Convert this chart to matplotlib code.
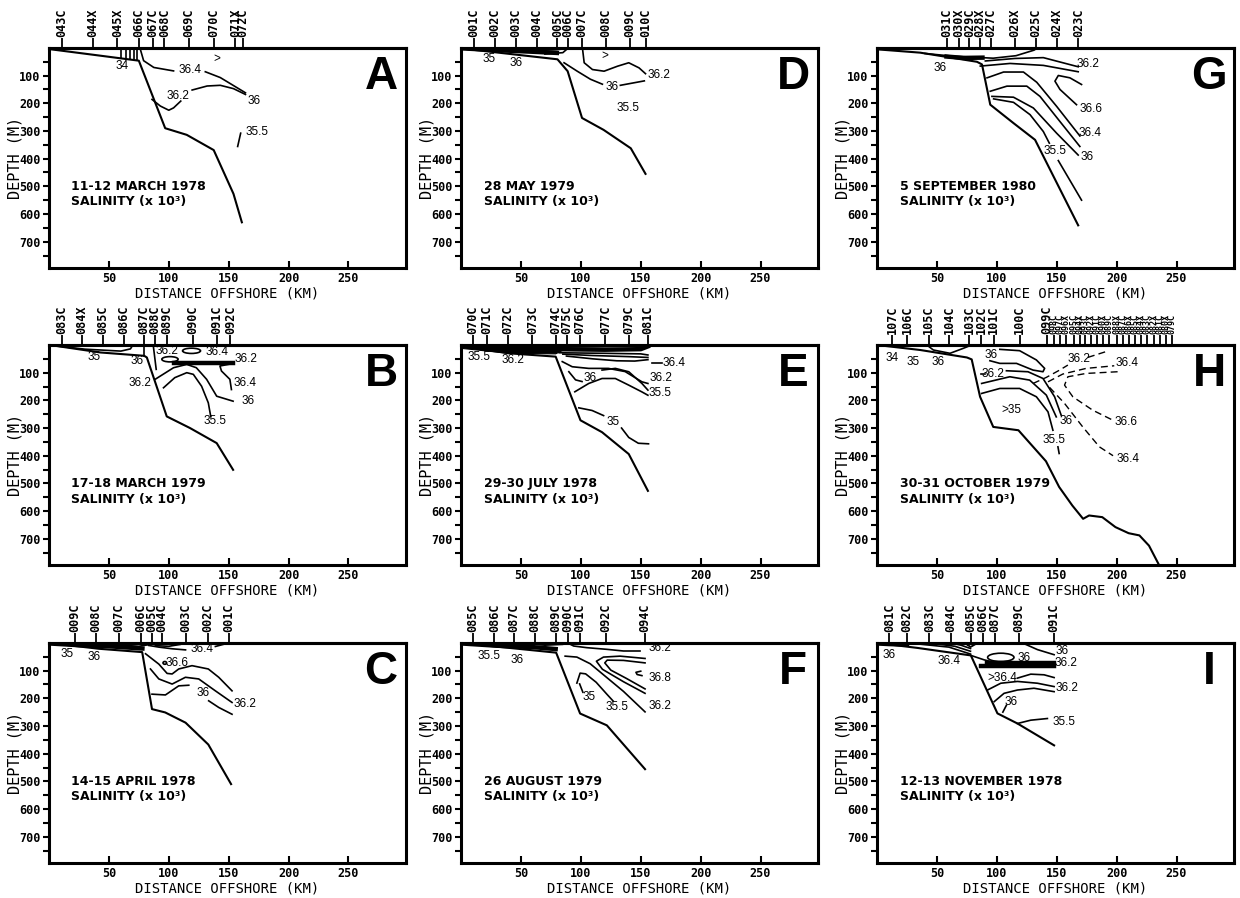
import matplotlib
matplotlib.use('Agg')
import matplotlib.pyplot as plt
from matplotlib.patches import Ellipse, Polygon

MONO = 'DejaVu Sans Mono'
SANS = 'Liberation Sans'

# ---- panel A : 11-12 March 1978 ----
a_date = '11-12 MARCH 1978'
a_stn = ['043C', '044X', '045X', '066C', '067C', '068C', '069C', '070C', '071X', '072C']
a_stn_km = [10.6, 36.7, 57, 75, 87, 96.4, 117, 137.5, 155.5, 162]
a_bottom = [(0, 4), (43, 28), (75, 46), (97, 290), (115, 314), (137.5, 369), (154, 527), (161, 630)]
a_lines = [
    [(76, 1), (79, 46), (87.5, 70.5), (104, 83)],
    [(130.5, 86), (143, 107), (164, 162)],
    [(86, 186), (93, 210), (100, 225), (104, 216.5), (110, 192)],
    [(119.5, 152), (132, 137.5), (143, 135), (154, 147), (164, 168)],
    [(157.5, 356), (160, 308)],
    [(60.3, 0), (60.3, 36)], [(64, 0), (64, 38)], [(67.5, 0), (67.5, 40)],
    [(71, 0), (71, 42)], [(73.6, 0), (73.6, 44)],
]
a_labels = [(61, 64, '34'), (118, 79, '36.4'), (108, 174, '36.2'), (171, 192, '36'),
            (173.6, 302, '35.5'), (140, 40, '>')]

# ---- panel D : 28 May 1979 ----
d_date = '28 MAY 1979'
d_stn = ['001C', '002C', '003C', '004C', '005C', '006C', '007C', '008C', '009C', '010C']
d_stn_km = [11, 28, 46, 63, 80.5, 89, 101, 121, 141, 154]
d_bottom = [(1.4, 2.4), (80.5, 41), (89, 84), (101, 253), (119, 296), (141.7, 362.5), (154, 455)]
d_thick = [[(3, 2), (30, 8), (61, 14), (80, 18)]]
d_lines = [
    [(61, 10), (80, 6), (89, 2), (85, 17), (70, 22)],
    [(101.4, 2.4), (102.8, 53.5), (109.7, 78), (119.4, 84), (130.6, 66), (140, 53.5),
     (148.6, 72), (154, 93)],
    [(86, 53.5), (97, 84), (108, 113), (118, 131)],
    [(133, 135), (153, 119)],
]
d_labels = [(23.6, 39, '35'), (46, 53, '36'), (165, 96, '36.2'), (126.4, 140, '36'),
            (139, 217.6, '35.5'), (120, 29, '>')]

# ---- panel G : 5 September 1980 ----
g_date = '5 SEPTEMBER 1980'
g_stn = ['031C', '030X', '029C', '028X', '027C', '026X', '025C', '024X', '023C']
g_stn_km = [58.4, 68.1, 77, 86, 95, 115, 132.7, 150.4, 168]
g_bottom = [(0, 5), (36, 17), (83.4, 50), (87.6, 59.5), (94.5, 205), (113.9, 271.6),
            (131.9, 332), (167.9, 641)]
g_thick = [[(58, 31), (72, 36), (88, 35)]]
g_lines = [
    [(40, 20), (64, 30), (97, 37), (116, 28), (131, 8), (134, 0)],
    [(90.4, 47), (115, 38), (138.8, 35), (167.9, 68)],
    [(86.2, 65.5), (111, 56), (138.8, 63), (167.9, 86)],
    [(91.8, 108), (105.6, 87), (122.2, 87), (133.3, 124), (149.9, 211), (169.3, 318)],
    [(94.5, 156.5), (108.4, 138), (125, 138), (136, 175), (152.7, 266), (169.3, 356)],
    [(95.9, 175), (113.9, 178), (130.5, 217), (149.9, 308), (167.9, 387)],
    [(97.3, 184), (113.9, 196.5), (127.7, 241), (138.8, 302), (143.8, 344)],
    [(151.3, 407), (170.7, 550)],
    [(170.7, 132), (161, 108), (151.3, 99.5), (148.5, 120), (152.7, 150), (166.5, 205)],
]
g_labels = [(53, 71.5, '36'), (176, 59.6, '36.2'), (179, 220.6, '36.6'), (178, 308, '36.4'),
            (175, 395, '36'), (148.5, 374, '35.5')]

# ---- panel B : 17-18 March 1979 ----
b_date = '17-18 MARCH 1979'
b_stn = ['083C', '084X', '085C', '086C', '087C', '088C', '089C', '090C', '091C', '092C']
b_stn_km = [10.5, 27.7, 45, 62.3, 79.5, 88.6, 98.3, 120, 140, 151.5]
b_bottom = [(0.8, 0), (43, 27), (79.5, 39), (81.7, 45), (98.3, 258), (117.7, 300),
            (140, 354.5), (153.7, 451)]
b_thick = [[(104, 66), (154, 66)]]
b_lines = [
    [(1, 1), (30, 15), (60, 22), (68, 14), (70, 0)],
    [(79.5, 0), (79.5, 40)],
    [(87, 0), (89.5, 88)],
    [(151, 69), (142.7, 75.8), (144, 94), (151, 124), (152.3, 161)],
    [(88.6, 124), (104, 82), (115, 70), (123, 82), (131.6, 124), (140, 185), (153.7, 203)],
    [(95.6, 154.5), (105, 118), (115, 100), (120.5, 106), (127.4, 149), (133, 209), (135, 257.6)],
]
b_ellipses = [(101, 51.5, 13.6, 19), (119, 21, 15, 19)]
b_labels = [(37.4, 45, '35'), (73.4, 57.6, '36'), (76, 136, '36.2'), (98.3, 21, '36.2'),
            (140, 27, '36.4'), (164.8, 51.5, '36.2'), (164, 136, '36.4'), (166, 203, '36'),
            (138.5, 276, '35.5')]

# ---- panel E : 29-30 July 1978 ----
e_date = '29-30 JULY 1978'
e_stn = ['070C', '071C', '072C', '073C', '074C', '075C', '076C', '077C', '079C', '081C']
e_stn_km = [9.7, 21.6, 38.8, 59.6, 79, 88.6, 99, 120.5, 140, 156]
e_bottom = [(0, 5), (40, 30), (79, 42), (99.7, 272), (117.7, 315), (140, 394), (156, 527)]
e_fill = [[(0, 0), (156, 0), (156, 5), (90, 8), (79, 32), (40, 30), (0, 12)]]
e_thick = [[(79, 15), (120, 17), (150, 15), (156, 5)]]
e_lines = [
    [(82, 28), (120, 30), (150, 32), (156, 36)],
    [(85, 33), (110, 38), (140, 42), (156, 45)],
    [(88, 40), (110, 50), (130, 57), (145, 58), (156, 53)],
    [(159, 66), (167.6, 66)],
    [(84.5, 60), (92.8, 78.5), (106.6, 84.5), (123, 84.5), (137, 96), (151, 133), (156, 139)],
    [(90, 96.5), (95.6, 126), (101, 132)],
    [(117.7, 90.6), (128.8, 84.5), (140, 96.6), (151, 139), (156, 163)],
    [(95, 169), (106.6, 139), (117.7, 121), (128.8, 121), (140, 145), (151, 169.5), (156, 181.5)],
    [(98.3, 227), (109.4, 236.6), (119, 255)],
    [(134, 300), (140, 334), (148, 355), (156.5, 357)],
]
e_labels = [(15.2, 42, '35.5'), (43, 54, '36.2'), (108, 120.7, '36'), (178, 66, '36.4'),
            (166.8, 121, '36.2'), (166, 175, '35.5'), (126.9, 278.5, '35')]

# ---- panel H : 30-31 October 1979 ----
h_date = '30-31 OCTOBER 1979'
h_stn = ['107C', '106C', '105C', '104C', '103C', '102C', '101C', '100C', '099C',
         '098C', '097C', '096X', '095C', '094X', '093C', '092X', '091C', '090X', '089C',
         '088X', '087C', '086X', '085C', '084X', '083C', '082X', '081C', '080X', '079C']
h_stn_km = [12.5, 25, 43, 60, 77, 87, 97.5, 119, 142,
            148, 153, 158, 164, 169, 174, 179, 184, 189, 194,
            200, 205, 210, 215, 220, 225, 231, 236, 241, 246]
h_bottom = [(0, 0), (36, 18), (75, 45), (79, 52), (86, 187), (97, 296), (118, 308),
            (141, 420), (152, 513), (163, 580), (172, 628), (177, 616), (188, 622),
            (199, 658), (210, 680), (219, 688), (227, 725), (236, 800)]
h_lines = [
    [(41.6, 0), (47, 18), (60.9, 30), (72, 12), (78.9, 0)],
    [(102.5, 15.7), (119, 20.5), (133, 54), (139.9, 84.5), (138.5, 96.6), (130.2, 90.6),
     (116.4, 66.4), (102.5, 66.4), (94.2, 56.8)],
    [(87, 104), (90, 104)],
    [(108, 93), (126, 96.6), (138.5, 120.8), (148.2, 187), (153.7, 253.6)],
    [(87.3, 138.9), (110.8, 114.7), (127.4, 126.8), (141.3, 181), (149.6, 259.7)],
    [(87.3, 175), (102.5, 157), (119, 157), (133, 187), (142.7, 241.5), (146.8, 308)],
    [(151, 368), (152, 392)],
]
h_dashed = [
    [(130.2, 139), (141.3, 117), (152.4, 90.6), (159.3, 72.5)],
    [(176, 44.7), (191, 24)],
    [(142.7, 133), (155, 105), (174.5, 84.5), (198, 75)],
    [(200.8, 96.6), (174.5, 102.7), (159.3, 114.7), (156.5, 145), (163.4, 187), (180, 235.5),
     (197, 272)],
    [(144, 153), (156.5, 211), (171.7, 296), (185.6, 368), (197, 400)],
]
h_labels = [(12.5, 48, '34'), (30.5, 60, '35'), (51.2, 60, '36'), (95.6, 36, '36'),
            (97, 106, '36.2'), (112.2, 235.5, '>35'), (157.9, 273.5, '36'),
            (147.4, 344, '35.5'), (168.7, 50, '36.2'), (209, 66.4, '36.4'),
            (208, 278, '36.6'), (209.5, 413, '36.4')]

# ---- panel C : 14-15 April 1978 ----
c_date = '14-15 APRIL 1978'
c_stn = ['009C', '008C', '007C', '006C', '005C', '004C', '003C', '002C', '001C']
c_stn_km = [21.7, 39.4, 58.3, 77, 85.6, 94.4, 114, 132.8, 150]
c_bottom = [(0, 0), (41.7, 21), (77.8, 33), (86, 239), (97, 251), (114, 288), (133, 367), (152, 510)]
c_thick = [[(1, 2), (25, 8), (50, 12), (78, 20)]]
c_lines = [
    [(50, 2), (60, 8), (75, 12), (85, 5)],
    [(85, 0), (90, 10), (100, 12), (110, 5), (112, 0)],
    [(83.3, 9), (91.7, 15), (102.8, 21), (114, 25)],
    [(138.9, 12.7), (150, 0)],
    [(80.6, 39), (91.7, 76.4), (98.6, 110), (102.8, 112), (108.3, 94), (119.4, 82), (133, 94),
     (141.7, 124), (152.8, 173)],
    [(84.7, 94), (91.7, 130), (102.8, 148.5), (113.9, 124), (125, 130), (138.9, 173), (152.8, 215)],
    [(86, 185), (97.2, 187.8), (108.3, 155), (116.7, 152.7)],
    [(133.3, 209), (141.7, 233), (152.8, 257.6)],
]
c_ellipses = [(96.7, 72, 3, 10)]
c_labels = [(15.3, 39.4, '35'), (37.5, 49, '36'), (127.8, 21, '36.4'), (107, 73, '36.6'),
            (163.9, 218.8, '36.2'), (129, 182, '36')]

# ---- panel F : 26 August 1979 ----
f_date = '26 AUGUST 1979'
f_stn = ['085C', '086C', '087C', '088C', '089C', '090C', '091C', '092C', '094C']
f_stn_km = [9.7, 27.8, 44.4, 61.4, 79.4, 89, 98.9, 121, 153.6]
f_bottom = [(0, 0), (38.3, 17), (79.4, 35), (99.4, 255), (121.7, 297.6), (153.6, 456)]
f_thick = [[(1, 2), (30, 10), (60, 15), (79, 22)]]
f_lines = [
    [(55, 3), (70, 8), (85, 5), (89, 0)],
    [(89, 0), (94, 11), (105, 17), (121.7, 23), (135.6, 29), (149.4, 29)],
    [(86.9, 47.6), (96.7, 51), (107.8, 75), (121.7, 125), (135.6, 175), (153.6, 249)],
    [(153.6, 56), (132.8, 47.6), (118.9, 51), (113, 66), (118, 95), (135.6, 140), (153.6, 182)],
    [(153.6, 72), (135.6, 63), (122, 62), (120, 72), (125, 98), (138, 128), (153.6, 166)],
    [(150, 102), (146, 106), (147, 114), (151, 118)],
    [(96.7, 145), (99.4, 109), (104, 111.6), (112.8, 142), (121.7, 185), (127, 210)],
    [(99, 148), (101.7, 178)],
]
f_labels = [(23, 47.6, '35.5'), (46.7, 59.8, '36'), (166, 17, '36.2'), (166, 127, '36.8'),
            (166, 227, '36.2'), (130, 230.5, '35.5'), (107, 196, '35')]

# ---- panel I : 12-13 November 1978 ----
i_date = '12-13 NOVEMBER 1978'
i_stn = ['081C', '082C', '083C', '084C', '085C', '086C', '087C', '089C', '091C']
i_stn_km = [10.3, 25, 43.6, 61.7, 78.3, 88.6, 98.3, 118.6, 147.8]
i_bottom = [(0, 0), (33.9, 18), (78.3, 45), (100.5, 254.5), (117.2, 291), (147.8, 370)]
i_thick = [[(1, 2), (10, 4), (25, 6)], [(86.7, 85), (147.8, 85)], [(92, 73), (147.8, 73)]]
i_lines = [
    [(33, 3), (60, 15), (78, 40)],
    [(43.6, 0), (65, 12), (78, 30)],
    [(61.7, 0), (70, 8), (78, 20)],
    [(75, 5), (78, 15), (82, 5), (75, 5)],
    [(121.4, 0), (133.9, 24), (147.8, 42.4)],
    [(78.3, 45), (89.4, 61), (100.5, 73)],
    [(117.2, 127), (128.3, 112.7), (139.4, 115), (147.8, 125)],
    [(92.2, 170), (103.3, 145.5), (117.2, 139), (133.9, 145.5), (147.8, 157.6)],
    [(97.8, 212), (106, 182), (117.2, 170), (131, 163.6), (147.8, 176)],
    [(105, 250), (108, 225)],
    [(117.2, 291), (128.3, 279), (142.2, 273)],
]
i_ellipses = [(103.3, 52, 22, 30)]
i_labels = [(10.3, 42.4, '36'), (60.3, 66.7, '36.4'), (154.7, 30, '36'), (122.8, 54.5, '36'),
            (157.5, 72.7, '36.2'), (104.7, 127, '>36.4'), (158.9, 161, '36.2'),
            (111.7, 212, '36'), (156, 285, '35.5')]


def draw_panel(ax, letter, date, stn, stn_km, bottom, lines, labels,
               thick=(), dashed=(), ellipses=(), fills=(), dense_from=None):
    ax.set_xlim(0, 298)
    ax.set_ylim(795, 0)
    for poly in fills:
        ax.add_patch(Polygon(poly, closed=True, fc='black', ec='black', lw=0.8))
    x, y = zip(*bottom)
    ax.plot(x, y, color='black', lw=1.5)
    for ln in lines:
        x, y = zip(*ln)
        ax.plot(x, y, color='black', lw=1.2)
    for ln in thick:
        x, y = zip(*ln)
        ax.plot(x, y, color='black', lw=3.2)
    for ln in dashed:
        x, y = zip(*ln)
        ax.plot(x, y, color='black', lw=1.0, ls=(0, (5, 3)))
    for cx, cy, w, h in ellipses:
        ax.add_patch(Ellipse((cx, cy), w, h, fill=False, ec='black', lw=1.2))
    for lx, ly, s in labels:
        ax.text(lx, ly, s, ha='center', va='center', fontsize=8.5, family=SANS)

    ax.text(0.063, 0.37, date, transform=ax.transAxes, fontsize=9, family='DejaVu Sans',
            weight='bold', va='center')
    ax.text(0.063, 0.30, 'SALINITY (x 10³)', transform=ax.transAxes, fontsize=9,
            family='DejaVu Sans', weight='bold', va='center')
    ax.text(0.93, 0.87, letter, transform=ax.transAxes, fontsize=33, family=SANS,
            weight='bold', ha='center', va='center')

    for sp in ax.spines.values():
        sp.set_linewidth(2.2)
    ax.set_xticks([50, 100, 150, 200, 250])
    ax.set_yticks([100, 200, 300, 400, 500, 600, 700])
    ax.set_yticks([50, 150, 250, 350, 450, 550, 650, 750], minor=True)
    ax.tick_params(axis='x', direction='in', length=5, width=1.5, labelsize=8.5, pad=3)
    ax.tick_params(axis='y', which='both', direction='out', length=4, width=1.5,
                   labelsize=8.5, pad=2)
    for t in ax.get_xticklabels() + ax.get_yticklabels():
        t.set_fontfamily(MONO)
        t.set_fontweight('bold')
    ax.set_xlabel('DISTANCE OFFSHORE (KM)', family=MONO, fontsize=10)
    ax.set_ylabel('DEPTH (M)', family=MONO, fontsize=11)
    ax.xaxis.set_label_coords(0.5, -0.085)
    ax.yaxis.set_label_coords(-0.075, 0.5)

    top = ax.secondary_xaxis('top')
    top.set_xticks(stn_km, labels=stn)
    top.tick_params(direction='out', length=7, width=1.3, labelsize=8.5, pad=1,
                    labelrotation=90)
    top.spines['top'].set_linewidth(2.2)
    for k, t in enumerate(top.get_xticklabels()):
        t.set_fontfamily(MONO)
        t.set_fontweight('bold')
        if dense_from is not None and k >= dense_from:
            t.set_fontsize(6)


fig = plt.figure(figsize=(12.4, 8.98), dpi=100)
lefts = [0.0395, 0.3718, 0.7073]
bottoms = [0.7016, 0.3708, 0.039]
w, h = 0.2879, 0.245

panels = [
    (0, 0, dict(letter='A', date=a_date, stn=a_stn, stn_km=a_stn_km, bottom=a_bottom,
                lines=a_lines, labels=a_labels)),
    (0, 1, dict(letter='D', date=d_date, stn=d_stn, stn_km=d_stn_km, bottom=d_bottom,
                lines=d_lines, labels=d_labels, thick=d_thick)),
    (0, 2, dict(letter='G', date=g_date, stn=g_stn, stn_km=g_stn_km, bottom=g_bottom,
                lines=g_lines, labels=g_labels, thick=g_thick)),
    (1, 0, dict(letter='B', date=b_date, stn=b_stn, stn_km=b_stn_km, bottom=b_bottom,
                lines=b_lines, labels=b_labels, thick=b_thick, ellipses=b_ellipses)),
    (1, 1, dict(letter='E', date=e_date, stn=e_stn, stn_km=e_stn_km, bottom=e_bottom,
                lines=e_lines, labels=e_labels, thick=e_thick, fills=e_fill)),
    (1, 2, dict(letter='H', date=h_date, stn=h_stn, stn_km=h_stn_km, bottom=h_bottom,
                lines=h_lines, labels=h_labels, dashed=h_dashed, dense_from=9)),
    (2, 0, dict(letter='C', date=c_date, stn=c_stn, stn_km=c_stn_km, bottom=c_bottom,
                lines=c_lines, labels=c_labels, thick=c_thick, ellipses=c_ellipses)),
    (2, 1, dict(letter='F', date=f_date, stn=f_stn, stn_km=f_stn_km, bottom=f_bottom,
                lines=f_lines, labels=f_labels, thick=f_thick)),
    (2, 2, dict(letter='I', date=i_date, stn=i_stn, stn_km=i_stn_km, bottom=i_bottom,
                lines=i_lines, labels=i_labels, thick=i_thick, ellipses=i_ellipses)),
]

for row, col, kw in panels:
    ax = fig.add_axes([lefts[col], bottoms[row], w, h])
    draw_panel(ax, **kw)

fig.savefig('out.png', dpi=100)
